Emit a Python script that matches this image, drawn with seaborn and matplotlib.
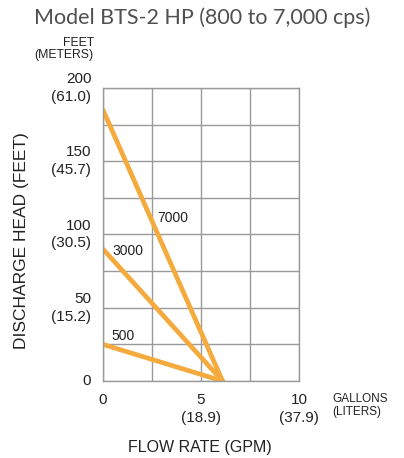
import pandas as pd
import matplotlib.pyplot as plt
import seaborn as sns

# curve data: flow (GPM) vs discharge head (ft)
viscosity = ['7000', '3000', '500']
flow_start = [0, 0, 0]
flow_end = [6.1, 6.1, 6.1]
head_start = [185, 90, 25]
head_end = [0, 0, 0]

# label positions (data coords)
label_x = [2.75, 0.5, 0.45]
label_y = [111, 89, 31]

y_ticks = [0, 50, 100, 150, 200]
y_tick_labels = ['0', '50\n(15.2)', '100\n(30.5)', '150\n(45.7)', '200\n(61.0)']
x_ticks = [0, 5, 10]
x_tick_labels = ['0', '5\n(18.9)', '10\n(37.9)']

rows = []
for v, x0, x1, y0, y1 in zip(viscosity, flow_start, flow_end, head_start, head_end):
    rows.append({'cps': v, 'flow': x0, 'head': y0})
    rows.append({'cps': v, 'flow': x1, 'head': y1})
df = pd.DataFrame(rows)

sns.set_style('white')
plt.rcParams['font.family'] = ['Liberation Sans', 'DejaVu Sans']

orange = '#F4AA3C'
grid_c = '#9a9a9a'
txt_c = '#222222'

fig = plt.figure(figsize=(4.04, 4.58), dpi=100)
ax = fig.add_axes([0.255, 0.168, 0.485, 0.640])

sns.lineplot(data=df, x='flow', y='head', units='cps', estimator=None,
             color=orange, linewidth=3.4, ax=ax, legend=False)

ax.set_xlim(0, 10)
ax.set_ylim(0, 200)
ax.set_xticks([0, 2.5, 5, 7.5, 10])
ax.set_yticks(range(0, 201, 25))
ax.grid(True, color=grid_c, linewidth=1)
ax.set_axisbelow(True)
for s in ax.spines.values():
    s.set_color(grid_c)
    s.set_linewidth(1)
ax.tick_params(length=0, labelleft=False, labelbottom=False)

for t, lab in zip(y_ticks, y_tick_labels):
    ax.text(-0.06, t, lab, transform=ax.get_yaxis_transform(), ha='right', va='center',
            multialignment='right', fontsize=11, color=txt_c, linespacing=1.35)
for t, lab in zip(x_ticks, x_tick_labels):
    ax.text(t, -0.04, lab, transform=ax.get_xaxis_transform(), ha='center', va='top',
            multialignment='center', fontsize=11, color=txt_c, linespacing=1.35)

for v, lx, ly in zip(viscosity, label_x, label_y):
    ax.text(lx, ly, v, ha='left', va='center', fontsize=10, color=txt_c)

ax.set_xlabel('')
ax.set_ylabel('')
fig.text(0.495, 0.024, 'FLOW RATE (GPM)', ha='center', va='center', fontsize=11.5, color=txt_c)
fig.text(0.054, 0.475, 'DISCHARGE HEAD (FEET)', ha='center', va='center', rotation=90,
         fontsize=12.5, color=txt_c)
fig.text(0.232, 0.893, 'FEET\n(METERS)', ha='right', va='center', multialignment='right',
         fontsize=8.8, color=txt_c, linespacing=1.05)
fig.text(0.822, 0.115, 'GALLONS\n(LITERS)', ha='left', va='center', multialignment='left',
         fontsize=8.5, color=txt_c, linespacing=1.05)
fig.text(0.5, 0.962, 'Model BTS-2 HP (800 to 7,000 cps)', ha='center', va='center',
         fontsize=15.5, color='#505050', family=['Lato', 'DejaVu Sans'])

fig.savefig('out.png', dpi=100)
